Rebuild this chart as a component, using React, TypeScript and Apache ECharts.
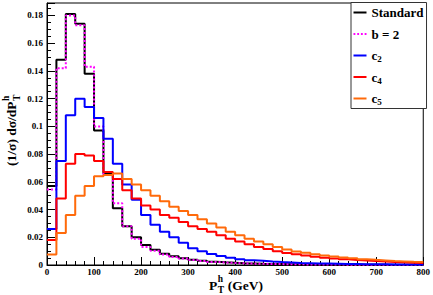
import React, { useEffect, useRef } from 'react';
import * as echarts from 'echarts';

// Histogram bins (lower edges, GeV) and width
const binLow = [0, 20, 40, 60, 80, 100, 120, 140, 160, 180, 200, 220, 240, 260, 280, 300, 320, 340, 360, 380,
  400, 420, 440, 460, 480, 500, 520, 540, 560, 580, 600, 620, 640, 660, 680, 700, 720, 740, 760, 780];
const binWidth = 20;

const standard = [0.057, 0.148, 0.181, 0.174, 0.138, 0.097, 0.066, 0.041, 0.028, 0.020, 0.0145, 0.011, 0.0082, 0.0063,
  0.0049, 0.0038, 0.0030, 0.0024, 0.0019, 0.0016, 0.0013, 0.0011, 0.0009, 0.0008, 0.0007, 0.0006, 0.0005, 0.00045,
  0.0004, 0.00035, 0.0003, 0.00027, 0.00024, 0.00021, 0.00019, 0.00017, 0.00015, 0.00013, 0.00012, 0.0001];
const bEq2 = [0.0545, 0.142, 0.180, 0.173, 0.143, 0.100, 0.065, 0.0445, 0.028, 0.019, 0.013, 0.0102, 0.0076, 0.0058,
  0.0046, 0.0036, 0.0028, 0.0022, 0.0018, 0.0015, 0.0012, 0.001, 0.00085, 0.00075, 0.00065, 0.00055, 0.00048, 0.00042,
  0.00037, 0.00033, 0.00029, 0.00026, 0.00023, 0.0002, 0.00018, 0.00016, 0.00014, 0.00012, 0.00011, 0.0001];
const c2 = [0.026, 0.075, 0.108, 0.120, 0.114, 0.106, 0.091, 0.073, 0.058, 0.047, 0.036, 0.029, 0.024, 0.020, 0.016,
  0.012, 0.010, 0.008, 0.0065, 0.0052, 0.0042, 0.0035, 0.003, 0.0025, 0.0021, 0.0018, 0.0015, 0.0013, 0.0011, 0.001,
  0.0009, 0.0008, 0.0007, 0.0006, 0.00055, 0.0005, 0.00045, 0.0004, 0.00035, 0.0003];
const c4 = [0.018, 0.048, 0.073, 0.080, 0.079, 0.075, 0.067, 0.062, 0.054, 0.048, 0.043, 0.040, 0.036, 0.034, 0.031,
  0.028, 0.026, 0.024, 0.0215, 0.019, 0.017, 0.015, 0.013, 0.0115, 0.010, 0.0087, 0.0077, 0.0068, 0.006, 0.0053,
  0.0047, 0.0041, 0.0036, 0.0032, 0.0028, 0.0025, 0.0022, 0.0019, 0.0017, 0.0015];
const c5 = [0.0075, 0.023, 0.036, 0.050, 0.057, 0.064, 0.065, 0.066, 0.062, 0.058, 0.054, 0.050, 0.046, 0.042, 0.039,
  0.036, 0.033, 0.030, 0.027, 0.024, 0.0215, 0.019, 0.017, 0.015, 0.013, 0.0112, 0.0098, 0.0088, 0.0078, 0.0069,
  0.0061, 0.0054, 0.0048, 0.0042, 0.0037, 0.0033, 0.0029, 0.0026, 0.0023, 0.0021];

const seriesNames = ['Standard', 'b = 2', 'c2', 'c4', 'c5'];
const seriesValues = [standard, bEq2, c2, c4, c5];
const seriesColors = ['#000000', '#ff00ff', '#0000ff', '#ff0000', '#ff6a0a'];
const seriesDash: any[] = ['solid', [2, 2], 'solid', 'solid', 'solid'];
const legendIcons = [
  'rect',
  'path://M0,0h2v2h-2zM4,0h2v2h-2zM8,0h2v2h-2zM12,0h2v2h-2z',
  'rect',
  'rect',
  'rect',
];

const xMin = 0;
const xMax = 800;
const xInterval = 100;
const yMin = 0;
const yMax = 0.189;
const yInterval = 0.02;

const FONT = '"Liberation Serif", "Times New Roman", serif';

function stepData(vals: number[]) {
  const pts = vals.map((v, i) => [binLow[i], v]);
  const last = vals.length - 1;
  pts.push([binLow[last] + binWidth, vals[last]]);
  return pts;
}

let measureCtx: CanvasRenderingContext2D | null = null;
function textW(t: string, size: number) {
  if (!measureCtx) measureCtx = document.createElement('canvas').getContext('2d');
  if (!measureCtx) return t.length * size * 0.5;
  measureCtx.font = `bold ${size}px ${FONT}`;
  return measureCtx.measureText(t).width;
}

function txt(text: string, x: number, y: number, size: number) {
  return {
    type: 'text',
    x,
    y,
    style: {
      text,
      font: `bold ${size}px ${FONT}`,
      fill: '#000',
      textAlign: 'left',
      textVerticalAlign: 'middle',
      align: 'left',
      verticalAlign: 'middle',
    },
  };
}

function pthTitle(before: string, after: string, size: number, small: number, supDy: number, subDy: number) {
  const wB = textW(before, size);
  const wS = Math.max(textW('h', small), textW('T', small)) + 1;
  const wA = after ? textW(after, size) : 0;
  const total = wB + wS + wA;
  const x0 = -total / 2;
  const kids: any[] = [
    txt(before, x0, 0, size),
    txt('h', x0 + wB + 0.5, supDy, small),
    txt('T', x0 + wB + 0.5, subDy, small),
  ];
  if (after) kids.push(txt(after, x0 + wB + wS, 0, size));
  return kids;
}

export default function App() {
  const ref = useRef<HTMLDivElement>(null);
  useEffect(() => {
    if (!ref.current) return;
    const chart = echarts.init(ref.current, null, { renderer: 'svg' });
    const labelStyle = { fontFamily: FONT, fontWeight: 'bold' as const, fontSize: 9, color: '#000' };
    const option: any = {
      animation: false,
      backgroundColor: '#fff',
      grid: {
        left: 47, right: 7, top: 3, bottom: 30,
        show: true, borderColor: '#000', borderWidth: 1, backgroundColor: 'transparent',
      },
      xAxis: {
        type: 'value', min: xMin, max: xMax, interval: xInterval,
        axisLine: { show: true, onZero: false, lineStyle: { color: '#000', width: 1 } },
        axisTick: { show: true, inside: true, length: 8, lineStyle: { color: '#000' } },
        minorTick: { show: true, splitNumber: 5, length: 4, lineStyle: { color: '#000' } },
        splitLine: { show: false },
        minorSplitLine: { show: false },
        axisLabel: { ...labelStyle, margin: 2 },
      },
      yAxis: {
        type: 'value', min: yMin, max: yMax, interval: yInterval,
        axisLine: { show: true, onZero: false, lineStyle: { color: '#000', width: 1 } },
        axisTick: { show: true, inside: true, length: 8, lineStyle: { color: '#000' } },
        minorTick: { show: true, splitNumber: 4, length: 4, lineStyle: { color: '#000' } },
        splitLine: { show: false },
        minorSplitLine: { show: false },
        axisLabel: {
          ...labelStyle, margin: 4, showMaxLabel: false,
          formatter: (v: number) => String(Number(v.toFixed(2))),
        },
      },
      legend: {
        orient: 'vertical',
        left: 351, top: 2.5,
        padding: [2, 3, 2, 2.5],
        itemWidth: 13, itemHeight: 2, itemGap: 5.5,
        backgroundColor: '#fff', borderColor: '#333', borderWidth: 1,
        data: seriesNames.map((name, i) => ({ name, icon: legendIcons[i] })),
        formatter: (name: string) => {
          const m = /^c(\d)$/.exec(name);
          return m ? `c{s|${m[1]}}` : name;
        },
        textStyle: {
          fontFamily: FONT, fontWeight: 'bold', fontSize: 13, color: '#000', lineHeight: 16,
          rich: { s: { fontFamily: FONT, fontWeight: 'bold', fontSize: 9, color: '#000', verticalAlign: 'bottom' } },
        },
      },
      series: seriesNames.map((name, i) => ({
        name,
        type: 'line',
        step: 'end',
        symbol: 'none',
        data: stepData(seriesValues[i]),
        lineStyle: { color: seriesColors[i], width: 2, type: seriesDash[i] },
        itemStyle: { color: seriesColors[i] },
        z: 2 + i,
      })),
      graphic: [
        { type: 'group', x: 236, y: 285, children: pthTitle('P', ' (GeV)', 13.5, 9.5, -6, 5) },
        { type: 'group', x: 11.5, y: 130, rotation: Math.PI / 2, children: pthTitle('(1/σ) dσ/dP', '', 13.5, 9.5, -6, 5) },
      ],
    };
    chart.setOption(option);
    return () => chart.dispose();
  }, []);
  return <div ref={ref} style={{ position: 'fixed', left: 0, top: 0, width: 433, height: 295 }} />;
}
